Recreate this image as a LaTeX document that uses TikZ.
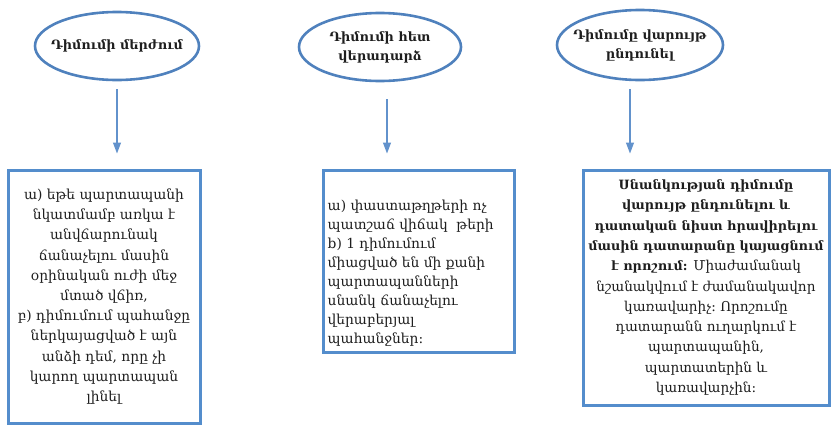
\documentclass[tikz,border=0pt]{standalone}
\usepackage{fontspec}
\setmainfont{DejaVu Serif}
\usetikzlibrary{shapes.geometric,arrows.meta}
\definecolor{ellblue}{RGB}{79,129,189}
\definecolor{boxblue}{RGB}{84,141,204}
\definecolor{arrblue}{RGB}{98,146,204}
\definecolor{txt}{RGB}{30,30,30}
\tikzset{
  ellbox/.style={ellipse, draw=ellblue, line width=2.6pt, fill=white, align=center, text=txt,
    font=\fontsize{12.8}{19}\selectfont\bfseries, inner xsep=-30pt, inner ysep=-8pt},
  textbox/.style={rectangle, draw=boxblue, line width=3pt, fill=white, text=txt, inner sep=2pt},
  plaintext/.style={text=txt, inner sep=0pt},
  arr/.style={draw=arrblue, line width=1.1pt, -{Triangle[width=8pt,length=11pt]}}
}
\begin{document}
\begin{tikzpicture}[x=1pt,y=-1pt]
\useasboundingbox (0,0) rectangle (831,426);
\node[ellbox, minimum width=164pt, minimum height=68pt] (e1) at (117,46) {Դիմումի մերժում};
\node[ellbox, minimum width=162pt, minimum height=68pt] (e2) at (380,47) {Դիմումի հետ\\վերադարձ};
\node[ellbox, minimum width=166pt, minimum height=70pt] (e3) at (640,45) {Դիմումը վարույթ\\ընդունել};

\node[textbox, minimum width=192pt, minimum height=253pt, align=center,
  font=\fontsize{13.8}{20.2}\selectfont] (b1) at (104,296.5)
  {ա) եթե պարտապանի\\նկատմամբ առկա է\\անվճարունակ\\ճանաչելու մասին\\օրինական ուժի մեջ\\մտած վճիռ,\\բ) դիմումում պահանջը\\ներկայացված է այն\\անձի դեմ, որը չի\\կարող պարտապան\\լինել};

\node[textbox, minimum width=191pt, minimum height=182pt] (b2) at (418.5,261) {};
\node[plaintext, anchor=north west, align=left, font=\fontsize{13.8}{19}\selectfont]
  (b2t) at ([xshift=6pt,yshift=-31pt]b2.north west)
  {ա) փաստաթղթերի ոչ\\պատշաճ վիճակ \ թերի\\b) 1 դիմումում\\միացված են մի քանի\\պարտապանների\\սնանկ ճանաչելու\\վերաբերյալ\\պահանջներ:};

\node[textbox, minimum width=246pt, minimum height=235pt, align=center,
  font=\fontsize{13.6}{20.3}\selectfont] (b3) at (706,287.5)
  {{\fontsize{12.8}{20.3}\selectfont\bfseries Սնանկության դիմումը}\\{\fontsize{12.8}{20.3}\selectfont\bfseries վարույթ ընդունելու և}\\{\fontsize{12.8}{20.3}\selectfont\bfseries դատական նիստ հրավիրելու}\\{\fontsize{12.8}{20.3}\selectfont\bfseries մասին դատարանը կայացնում}\\{\fontsize{12.8}{20.3}\selectfont\bfseries է որոշում:} Միաժամանակ\\նշանակվում է ժամանակավոր\\կառավարիչ։ Որոշումը\\դատարանն ուղարկում է\\պարտապանին,\\պարտատերին և\\կառավարչին:};

\draw[arr, shorten <=8pt, shorten >=15pt] (e1.south) -- (e1.south |- b1.north);
\draw[arr, shorten <=17pt, shorten >=15pt] ([xshift=7pt]e2.south) -- ([xshift=7pt]e2.south |- b2.north);
\draw[arr, shorten <=8pt, shorten >=15pt] ([xshift=-10pt]e3.south) -- ([xshift=-10pt]e3.south |- b3.north);
\end{tikzpicture}
\end{document}
